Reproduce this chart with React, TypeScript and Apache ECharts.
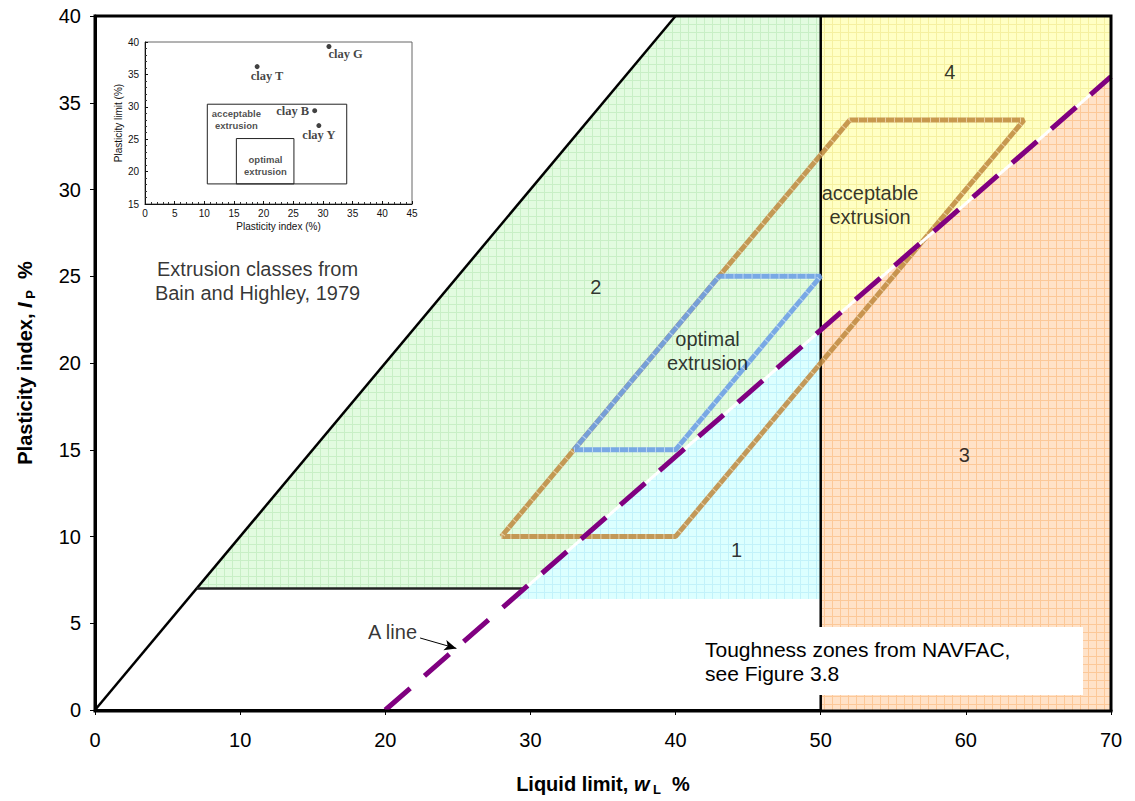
import React, { useEffect, useRef } from 'react';
import * as echarts from 'echarts';

// ---- main chart data (liquid limit wL %, plasticity index IP %) ----
const xTicks = [0, 10, 20, 30, 40, 50, 60, 70];
const yTicks = [0, 5, 10, 15, 20, 25, 30, 35, 40];
const uLine = [[0, 0], [40, 40]];
const aLine = [[20, 0], [70, 36.5]];
const aLineUnder = [[28.8, 6.4], [70, 36.5]];
const hLine7 = [[7, 7], [29.6, 7]];
const vLine50 = [[50, 0], [50, 40]];
const zone2 = [[7, 7], [40, 40], [50, 40], [50, 21.9], [29.6, 7]];
const zone1 = [[28.8, 6.4], [50, 6.4], [50, 21.9]];
const zone4 = [[50, 21.9], [50, 40], [70, 40], [70, 36.5]];
const zone3 = [[50, 0], [70, 0], [70, 36.5], [50, 21.9]];
const acceptable = [[28, 10], [40, 10], [64, 34], [52, 34], [28, 10]];
const optimal = [[33, 15], [40, 15], [50, 25], [43, 25], [33, 15]];
const zoneLabels = [
  { name: '1', value: [44.2, 9.2] },
  { name: '2', value: [34.5, 24.4] },
  { name: '3', value: [59.9, 14.7] },
  { name: '4', value: [58.9, 36.8] },
  { name: 'optimal\nextrusion', value: [42.2, 20.7] },
  { name: 'acceptable\nextrusion', value: [53.4, 29.1] },
  { name: 'Extrusion classes from\nBain and Highley, 1979', value: [11.2, 24.7] },
  { name: 'A line', value: [20.5, 4.5] },
];
const arrowFrom = [22.4, 4.15];
const arrowTo = [24.9, 3.55];

// ---- inset data (plasticity index %, plasticity limit %) ----
const insetXTicks = [0, 5, 10, 15, 20, 25, 30, 35, 40, 45];
const insetYTicks = [15, 20, 25, 30, 35, 40];
const insetClays = [
  { name: 'clay G', value: [31.0, 39.3] },
  { name: 'clay T', value: [18.9, 36.2] },
  { name: 'clay B', value: [28.6, 29.4] },
  { name: 'clay Y', value: [29.3, 27.1] },
];
const insetLabelPos: any[] = [[2, 3], [-4, 5], 'left', [-14, 5]];
const insetAcceptable = [10.5, 18.1, 34.0, 30.4];
const insetOptimal = [15.4, 18.1, 25.1, 25.1];
const insetLabels = [
  { name: 'acceptable\nextrusion', value: [15.4, 28.1] },
  { name: 'optimal\nextrusion', value: [20.3, 21.0] },
];

const SANS = '"Liberation Sans", Arial, sans-serif';
const SERIF = '"Liberation Serif", "Times New Roman", serif';

function makePattern(bg: string, line: string) {
  const c = document.createElement('canvas');
  c.width = 8;
  c.height = 8;
  const ctx = c.getContext('2d')!;
  ctx.fillStyle = bg;
  ctx.fillRect(0, 0, 8, 8);
  ctx.fillStyle = line;
  ctx.fillRect(0, 0, 8, 1);
  ctx.fillRect(0, 0, 1, 8);
  return { image: c, repeat: 'repeat', imageWidth: 8, imageHeight: 8 } as any;
}

function polySeries(pts: number[][], fill: any, z: number) {
  return {
    type: 'custom',
    xAxisIndex: 0,
    yAxisIndex: 0,
    z,
    silent: true,
    data: [[0, 0]],
    renderItem: (_p: any, api: any) => ({
      type: 'polygon',
      shape: { points: pts.map((p) => api.coord(p)) },
      style: { fill },
    }),
  };
}

function lineSeries(pts: number[][], color: string, width: number, z: number, type: any = 'solid') {
  return {
    type: 'line',
    xAxisIndex: 0,
    yAxisIndex: 0,
    z,
    silent: true,
    symbol: 'none',
    data: pts,
    lineStyle: { color, width, type, cap: 'butt' },
  };
}

function rectSeries(r: number[], z: number) {
  return {
    type: 'custom',
    xAxisIndex: 1,
    yAxisIndex: 1,
    z,
    silent: true,
    data: [[0, 0]],
    renderItem: (_p: any, api: any) => {
      const a = api.coord([r[0], r[3]]);
      const b = api.coord([r[2], r[1]]);
      return {
        type: 'rect',
        shape: { x: a[0], y: a[1], width: b[0] - a[0], height: b[1] - a[1] },
        style: { fill: 'none', stroke: '#222', lineWidth: 1 },
      };
    },
  };
}

const nameRich = {
  b: { fontFamily: SANS, fontSize: 20, fontWeight: 'bold', color: '#000', lineHeight: 24 },
  i: { fontFamily: SANS, fontSize: 20, fontWeight: 'bold', fontStyle: 'italic', color: '#000', lineHeight: 24 },
  s: { fontFamily: SANS, fontSize: 13, fontWeight: 'bold', color: '#000', lineHeight: 13, verticalAlign: 'bottom' },
};

export default function App() {
  const ref = useRef<HTMLDivElement>(null);
  useEffect(() => {
    const chart = echarts.init(ref.current!, null, { renderer: 'svg' });
    const option: any = {
      animation: false,
      backgroundColor: '#fff',
      grid: [
        { left: 95, top: 16, width: 1016, height: 695, show: false },
        { left: 145, top: 42, width: 267, height: 162, show: true, borderColor: '#666', borderWidth: 1 },
      ],
      xAxis: [
        {
          gridIndex: 0, type: 'value', min: 0, max: 70, interval: 10,
          name: '{b|Liquid limit, }{i|w}{s| L}{b|  %}', nameLocation: 'middle', nameGap: 62,
          nameTextStyle: { rich: nameRich },
          axisLine: { show: true, lineStyle: { color: '#000', width: 3 } },
          axisTick: { show: true, length: 5, lineStyle: { color: '#000', width: 1 } },
          axisLabel: { fontFamily: SANS, fontSize: 20, color: '#000', margin: 20 },
          splitLine: { show: false },
        },
        {
          gridIndex: 1, type: 'value', min: 0, max: 45, interval: 5,
          name: 'Plasticity index (%)', nameLocation: 'middle', nameGap: 17,
          nameTextStyle: { fontFamily: SANS, fontSize: 10, color: '#111' },
          axisLine: { show: true, lineStyle: { color: '#111', width: 1 } },
          axisTick: { show: true, inside: true, length: 3, lineStyle: { color: '#111' } },
          minorTick: { show: true, splitNumber: 5, length: 2, lineStyle: { color: '#333' } },
          axisLabel: { fontFamily: SANS, fontSize: 10, color: '#111', margin: 4 },
          splitLine: { show: false },
        },
      ],
      yAxis: [
        {
          gridIndex: 0, type: 'value', min: 0, max: 40, interval: 5,
          name: '{b|Plasticity index, }{i|I}{s| P}{b|  %}', nameLocation: 'middle', nameGap: 58, nameRotate: 90,
          nameTextStyle: { rich: nameRich },
          axisLine: { show: true, lineStyle: { color: '#000', width: 3 } },
          axisTick: { show: true, length: 5, lineStyle: { color: '#000', width: 1 } },
          axisLabel: { fontFamily: SANS, fontSize: 20, color: '#000', margin: 14 },
          splitLine: { show: false },
        },
        {
          gridIndex: 1, type: 'value', min: 15, max: 40, interval: 5,
          name: 'Plasticity limit (%)', nameLocation: 'middle', nameGap: 22, nameRotate: 90,
          nameTextStyle: { fontFamily: SANS, fontSize: 10, color: '#111' },
          axisLine: { show: true, lineStyle: { color: '#111', width: 1 } },
          axisTick: { show: true, inside: true, length: 3, lineStyle: { color: '#111' } },
          minorTick: { show: true, splitNumber: 5, length: 2, lineStyle: { color: '#333' } },
          axisLabel: { fontFamily: SANS, fontSize: 10, color: '#111', margin: 6 },
          splitLine: { show: false },
        },
      ],
      series: [
        polySeries(zone2, makePattern('#e2fbe0', '#c8efc6'), 1),
        polySeries(zone1, makePattern('#dcffff', '#c2f2fa'), 1),
        polySeries(zone4, makePattern('#ffffc4', '#f5f0a0'), 1),
        polySeries(zone3, makePattern('#ffe2c8', '#fcc898'), 1),
        lineSeries(uLine, '#000', 2.5, 3),
        lineSeries(hLine7, '#222', 2.5, 3),
        lineSeries(vLine50, '#000', 2.5, 3),
        lineSeries(acceptable, 'rgba(190,135,60,0.85)', 5, 4),
        lineSeries(acceptable, 'rgba(255,240,210,0.6)', 5, 4, [1, 8]),
        lineSeries(optimal, 'rgba(110,160,230,0.9)', 5, 5),
        lineSeries(optimal, 'rgba(230,245,255,0.6)', 5, 5, [1, 8]),
        lineSeries(aLineUnder, '#fff', 3, 6),
        {
          ...lineSeries(aLine, '#800080', 5, 7, [33, 19]),
          markLine: {
            silent: true,
            symbol: ['none', 'arrow'],
            symbolSize: [8, 12],
            label: { show: false },
            lineStyle: { color: '#000', width: 1, type: 'solid' },
            data: [[{ coord: arrowFrom }, { coord: arrowTo }]],
          },
        },
        {
          type: 'scatter',
          xAxisIndex: 0,
          yAxisIndex: 0,
          z: 9,
          silent: true,
          symbolSize: 1,
          itemStyle: { color: 'rgba(0,0,0,0)' },
          data: zoneLabels,
          label: {
            show: true,
            position: 'inside',
            formatter: '{b}',
            fontFamily: SANS,
            fontSize: 20,
            lineHeight: 24,
            color: '#000',
            align: 'center',
          },
        },
        rectSeries(insetAcceptable, 2),
        rectSeries(insetOptimal, 2),
        {
          type: 'scatter',
          xAxisIndex: 1,
          yAxisIndex: 1,
          z: 3,
          silent: true,
          symbolSize: 5,
          itemStyle: { color: '#111' },
          data: insetClays.map((c, i) => ({
            name: c.name,
            value: c.value,
            label: { position: insetLabelPos[i] },
          })),
          label: {
            show: true,
            formatter: '{b}',
            fontFamily: SERIF,
            fontWeight: 'bold',
            fontSize: 12.5,
            color: '#111',
            distance: 3,
          },
        },
        {
          type: 'scatter',
          xAxisIndex: 1,
          yAxisIndex: 1,
          z: 3,
          silent: true,
          symbolSize: 1,
          itemStyle: { color: 'rgba(0,0,0,0)' },
          data: insetLabels,
          label: {
            show: true,
            position: 'inside',
            formatter: '{b}',
            fontFamily: SANS,
            fontWeight: 'bold',
            fontSize: 9.5,
            lineHeight: 12,
            color: '#222',
          },
        },
      ],
      graphic: [
        { type: 'rect', z: 50, shape: { x: 693, y: 627, width: 390, height: 68 }, style: { fill: '#fff' } },
        {
          type: 'text', z: 51, x: 705, y: 637,
          style: { text: 'Toughness zones from NAVFAC,\nsee Figure 3.8', fontFamily: SANS, fontSize: 21, lineHeight: 24, fill: '#000' },
        },
        {
          type: 'rect', z: 60, shape: { x: 95, y: 16, width: 1016, height: 695 },
          style: { fill: 'none', stroke: '#000', lineWidth: 3 },
        },
      ],
    };
    chart.setOption(option);
    return () => chart.dispose();
  }, []);
  return <div ref={ref} style={{ position: 'fixed', left: 0, top: 0, width: 1135, height: 801 }} />;
}
